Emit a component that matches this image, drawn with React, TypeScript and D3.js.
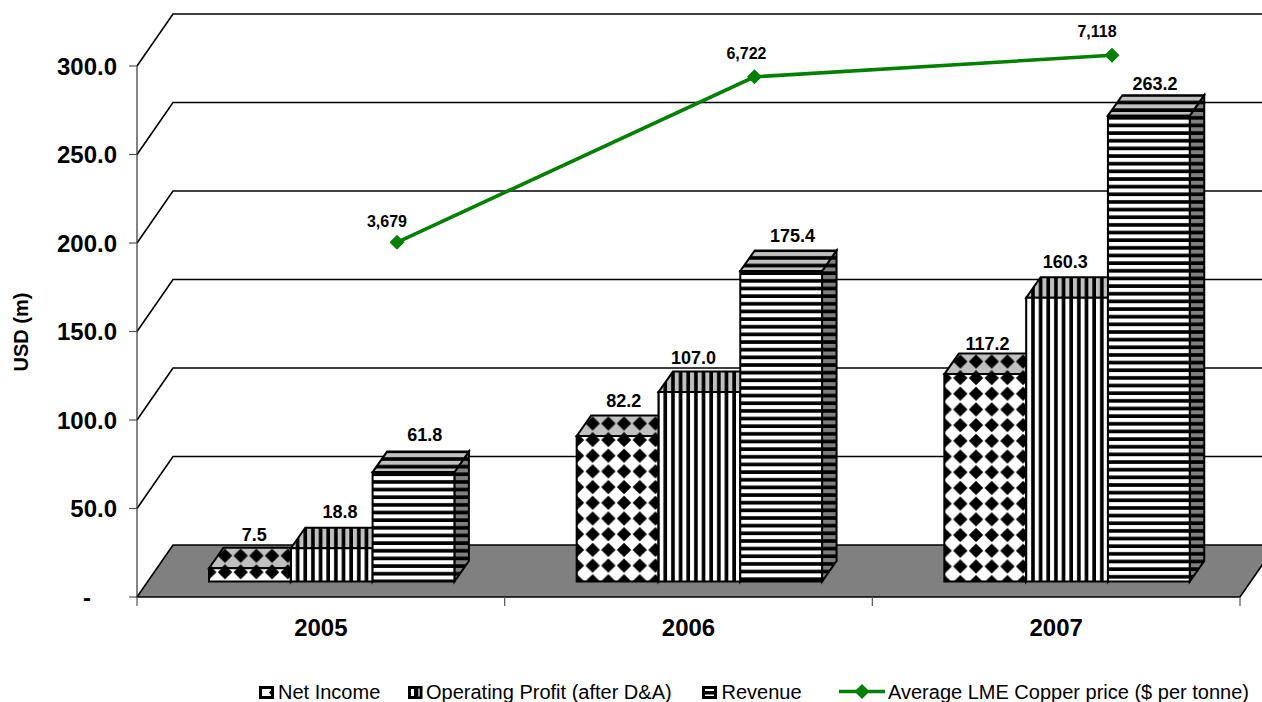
import React from "react";
import * as d3 from "d3";

// Financial results in USD millions, and the average copper price in USD per tonne.
const years = ["2005", "2006", "2007"];
const seriesNames = ["Net Income", "Operating Profit (after D&A)", "Revenue"];
const netIncome = [7.5, 82.2, 117.2];
const operatingProfit = [18.8, 107.0, 160.3];
const revenue = [61.8, 175.4, 263.2];
const copperPrice = [3679, 6722, 7118];
const copperName = "Average LME Copper price ($ per tonne)";
const axisTicks = [0, 50, 100, 150, 200, 250, 300];
const axisTitle = "USD (m)";

const W = 1262;
const H = 702;
const FONT = "'Liberation Sans', Arial, sans-serif";

// The floor and walls recede by this much; bars have a shallower depth of their own.
const WALL_DX = 36;
const WALL_DY = -52;
const BAR_DX = 14.5;
const BAR_DY = -20.5;

const xBand = d3.scaleBand<string>().domain(years).range([137, 1240]);
const yAxis = d3.scaleLinear().domain([0, 300]).range([597, 66]);
const yBar = d3.scaleLinear().domain([0, 300]).range([581.5, 50.5]);
const yPrice = d3.scaleLinear().domain([0, 8000]).range([442.5, 7.3]);
const xPrice = d3.scaleLinear().domain([0, 2]).range([397, 1112]);

const BAR_W = 81.8;
const CLUSTER_OFFSET = 72;
const PERIOD = 7.65;
const DIAMOND = 15.7;

// Hand placement of the value labels above each bar, [dx, dy] from the bar's back top edge centre.
const labelNudge = [
  [[-3, -13], [1, -16], [4, -17]],
  [[-1, -15], [-13, -14], [4, -15]],
  [[-5, -10], [-9, -15], [-1, -11]],
];
const priceLabelNudge = [[-10, -20], [-8, -23], [-15, -23]];

const fmt = d3.format(",");

function DiamondPattern({ id, left, top, bg, shift }: any) {
  const h = DIAMOND / 2;
  const r = 7.2;
  return (
    <pattern id={id} patternUnits="userSpaceOnUse" width={DIAMOND} height={DIAMOND} x={left + 16 - h} y={top + shift - h}>
      <rect width={DIAMOND} height={DIAMOND} fill={bg} />
      <path d={`M${h - r},${h}L${h},${h - r}L${h + r},${h}L${h},${h + r}Z`} fill="#000" />
    </pattern>
  );
}

function StripePattern({ id, vertical, left, top, bg }: any) {
  const dark = 3.65;
  const light = PERIOD - dark;
  return vertical ? (
    <pattern id={id} patternUnits="userSpaceOnUse" width={PERIOD} height={10} x={left + 1} y={0}>
      <rect width={PERIOD} height={10} fill={bg} />
      <rect x={light} width={dark} height={10} fill="#000" />
    </pattern>
  ) : (
    <pattern id={id} patternUnits="userSpaceOnUse" width={10} height={PERIOD} x={0} y={top + 6 - light / 2}>
      <rect width={10} height={PERIOD} fill={bg} />
      <rect y={light} width={10} height={dark} fill="#000" />
    </pattern>
  );
}

function Bar({ kind, yearIndex, seriesIndex, value }: any) {
  const left = (xBand(years[yearIndex]) as number) + CLUSTER_OFFSET + seriesIndex * BAR_W;
  const right = left + BAR_W;
  const top = yBar(value);
  const base = yBar(0);
  const key = `${yearIndex}-${seriesIndex}`;
  const front = `M${left},${top}H${right}V${base}H${left}Z`;
  const roof = `M${left},${top}L${left + BAR_DX},${top + BAR_DY}H${right + BAR_DX}L${right},${top}Z`;
  const side = `M${right},${top}L${right + BAR_DX},${top + BAR_DY}V${base + BAR_DY}L${right},${base}Z`;
  const defs =
    kind === "diamond" ? (
      <>
        <DiamondPattern id={`f${key}`} left={left} top={top} bg="#fff" shift={4} />
        <DiamondPattern id={`t${key}`} left={left} top={top} bg="#c0c0c0" shift={-12.5} />
        <DiamondPattern id={`s${key}`} left={left} top={top} bg="#808080" shift={4} />
      </>
    ) : (
      <>
        <StripePattern id={`f${key}`} vertical={kind === "v"} left={left} top={top} bg="#fff" />
        <StripePattern id={`t${key}`} vertical={kind === "v"} left={left} top={top} bg="#c0c0c0" />
        <StripePattern id={`s${key}`} vertical={kind === "v"} left={left} top={top} bg="#808080" />
      </>
    );
  return (
    <g>
      <defs>{defs}</defs>
      <g stroke="#000" strokeWidth={2} strokeLinejoin="miter">
        <path d={side} fill={`url(#s${key})`} />
        <path d={roof} fill={`url(#t${key})`} />
        <path d={front} fill={`url(#f${key})`} />
      </g>
    </g>
  );
}

export default function App() {
  const seriesValues = [netIncome, operatingProfit, revenue];
  const kinds = ["diamond", "v", "h"];
  const pricePath = d3
    .line<number>()
    .x((_, i) => xPrice(i))
    .y((d) => yPrice(d))(copperPrice) as string;
  const floorFrontY = yAxis(0);
  const floorBackY = floorFrontY + WALL_DY;
  const ticksX = [...years.map((y) => xBand(y) as number), 1240];

  return (
    <svg
      width={W}
      height={H}
      viewBox={`0 0 ${W} ${H}`}
      style={{ position: "absolute", left: 0, top: 0, display: "block", background: "#fff" }}
      fontFamily={FONT}
    >
      {/* back wall gridlines, each with its diagonal on the side wall */}
      {axisTicks.slice(1).map((t) => (
        <path
          key={t}
          d={`M137,${yAxis(t)}L${137 + WALL_DX},${yAxis(t) + WALL_DY}H${W}`}
          fill="none"
          stroke="#000"
          strokeWidth={1.6}
        />
      ))}

      {/* floor */}
      <path
        d={`M137,${floorFrontY}L${137 + WALL_DX},${floorBackY}H${1240 + WALL_DX}L1240,${floorFrontY}Z`}
        fill="#808080"
        stroke="#000"
        strokeWidth={1.6}
      />

      {/* axes */}
      <path d={`M137,${yAxis(300)}V${floorFrontY}`} stroke="#333" strokeWidth={1.2} fill="none" />
      {axisTicks.map((t) => (
        <path key={t} d={`M129,${yAxis(t)}H137`} stroke="#555" strokeWidth={1.2} fill="none" />
      ))}
      {ticksX.map((x) => (
        <path key={x} d={`M${x},${floorFrontY}V606`} stroke="#555" strokeWidth={1.2} fill="none" />
      ))}
      {axisTicks.map((t) => (
        <text
          key={t}
          x={t === 0 ? 91 : 117}
          y={yAxis(t) + 8.5}
          textAnchor="end"
          fontSize={24}
          fontWeight="bold"
          fill="#000"
        >
          {t === 0 ? "-" : t.toFixed(1)}
        </text>
      ))}
      {years.map((y) => (
        <text
          key={y}
          x={(xBand(y) as number) + xBand.bandwidth() / 2}
          y={636}
          textAnchor="middle"
          fontSize={24}
          fontWeight="bold"
          fill="#000"
        >
          {y}
        </text>
      ))}
      <text
        transform="translate(28,332) rotate(-90)"
        textAnchor="middle"
        fontSize={20}
        fontWeight="bold"
        fill="#000"
      >
        {axisTitle}
      </text>

      {/* bars */}
      {years.map((_, yi) =>
        seriesValues.map((vals, si) => (
          <Bar key={`${yi}-${si}`} kind={kinds[si]} yearIndex={yi} seriesIndex={si} value={vals[yi]} />
        ))
      )}

      {/* bar value labels */}
      {years.map((y, yi) =>
        seriesValues.map((vals, si) => {
          const left = (xBand(y) as number) + CLUSTER_OFFSET + si * BAR_W;
          const [dx, dy] = labelNudge[yi][si];
          return (
            <text
              key={`${y}-${si}`}
              x={left + BAR_W / 2 + BAR_DX / 2 + dx}
              y={yBar(vals[yi]) + BAR_DY + dy + 6}
              textAnchor="middle"
              fontSize={18}
              fontWeight="bold"
              fill="#000"
            >
              {vals[yi].toFixed(1)}
            </text>
          );
        })
      )}

      {/* copper price line */}
      <path d={pricePath} fill="none" stroke="#008000" strokeWidth={3.6} />
      {copperPrice.map((p, i) => (
        <g key={i}>
          <path
            transform={`translate(${xPrice(i)},${yPrice(p)})`}
            d="M-7.5,0L0,-7.5L7.5,0L0,7.5Z"
            fill="#008000"
          />
          <text
            x={xPrice(i) + priceLabelNudge[i][0]}
            y={yPrice(p) + priceLabelNudge[i][1] + 5}
            textAnchor="middle"
            fontSize={16}
            fontWeight="bold"
            fill="#000"
          >
            {fmt(p)}
          </text>
        </g>
      ))}

      {/* legend */}
      <g stroke="#000" strokeWidth={3}>
        <rect x={260.5} y={687.5} width={12} height={10} fill="#fff" />
        <path d="M269,692.5L272,689V696Z" fill="#000" stroke="none" />
        <rect x={409.5} y={687.5} width={11.5} height={10} fill="#fff" />
        <rect x={414} y={687.5} width={4} height={10} fill="#000" stroke="none" />
        <rect x={418} y={688.5} width={2} height={8} fill="#999" stroke="none" />
        <rect x={703.5} y={687.5} width={12} height={10} fill="#fff" />
        <rect x={703.5} y={691} width={12} height={3.5} fill="#000" stroke="none" />
      </g>
      <g fontSize={20} fill="#000">
        <text x={278} y={699}>{seriesNames[0]}</text>
        <text x={426} y={699}>{seriesNames[1]}</text>
        <text x={721.5} y={699}>{seriesNames[2]}</text>
        <text x={888} y={699}>{copperName}</text>
      </g>
      <path d="M839,691.5H885" stroke="#008000" strokeWidth={3.6} fill="none" />
      <path transform="translate(862,691.5)" d="M-7.5,0L0,-7.5L7.5,0L0,7.5Z" fill="#008000" />
    </svg>
  );
}
